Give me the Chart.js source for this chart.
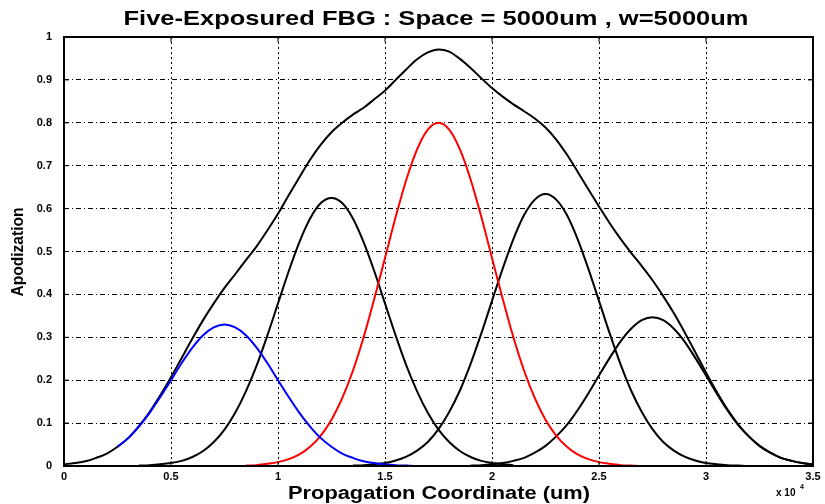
<!DOCTYPE html>
<html>
<head>
<meta charset="utf-8">
<title>Five-Exposured FBG</title>
<script src="https://cdn.jsdelivr.net/npm/chart.js@4.4.1/dist/chart.umd.min.js"></script>
<style>
  body { margin: 0; background: #fff; }
  canvas { display: block; }
</style>
</head>
<body>
<canvas id="apodChart" width="825" height="504"></canvas>
<script>
// propagation coordinate, in units of 10^4 um
var xs = [0,0.05,0.1,0.15,0.2,0.25,0.3,0.35,0.4,0.45,
          0.5,0.55,0.6,0.65,0.7,0.75,0.8,0.85,0.9,0.95,
          1,1.05,1.1,1.15,1.2,1.25,1.3,1.35,1.4,1.45,
          1.5,1.55,1.6,1.65,1.7,1.75,1.8,1.85,1.9,1.95,
          2,2.05,2.1,2.15,2.2,2.25,2.3,2.35,2.4,2.45,
          2.5,2.55,2.6,2.65,2.7,2.75,2.8,2.85,2.9,2.95,
          3,3.05,3.1,3.15,3.2,3.25,3.3,3.35,3.4,3.45,
          3.5];

// total apodization (sum of the five exposures)
var envelope = [0.004,0.007,0.011,0.019,0.029,0.045,0.065,0.093,0.126,0.165,
                0.207,0.252,0.297,0.340,0.379,0.415,0.447,0.480,0.512,0.549,
                0.588,0.631,0.673,0.714,0.749,0.778,0.800,0.819,0.835,0.855,
                0.875,0.900,0.925,0.948,0.964,0.971,0.966,0.949,0.928,0.904,
                0.881,0.861,0.843,0.827,0.810,0.789,0.761,0.726,0.686,0.645,
                0.605,0.566,0.530,0.497,0.466,0.433,0.396,0.356,0.312,0.265,
                0.218,0.173,0.132,0.097,0.069,0.047,0.031,0.019,0.012,0.007,
                0.004];

// exposure 1 (blue)
var exposure1 = [null,null,null,null,null,0.045,0.065,0.092,0.124,0.161,
                 0.200,0.240,0.276,0.305,0.323,0.330,0.323,0.305,0.276,0.240,
                 0.200,0.161,0.124,0.092,0.065,0.045,0.029,0.019,0.011,0.007,
                 0.004,0.002,0.001,0,0,0,0,0,0,0,
                 0,0,0,null,null,null,null,null,null,null,
                 null,null,null,null,null,null,null,null,null,null,
                 null,null,null,null,null,null,null,null,null,null,
                 null];

// exposure 2 (black)
var exposure2 = [null,null,null,null,null,null,null,0.001,0.002,0.004,
                 0.007,0.012,0.021,0.035,0.056,0.085,0.124,0.174,0.234,0.304,
                 0.379,0.454,0.522,0.577,0.613,0.625,0.613,0.577,0.522,0.454,
                 0.379,0.304,0.234,0.174,0.124,0.085,0.056,0.035,0.021,0.012,
                 0.007,0.004,0.002,null,null,null,null,null,null,null,
                 null,null,null,null,null,null,null,null,null,null,
                 null,null,null,null,null,null,null,null,null,null,
                 null];

// exposure 3 (red, centre)
var exposure3 = [null,null,null,null,null,null,null,null,null,null,
                 null,null,null,null,null,null,null,0.001,0.002,0.005,
                 0.009,0.016,0.027,0.045,0.071,0.108,0.158,0.222,0.300,0.390,
                 0.485,0.581,0.668,0.738,0.784,0.800,0.784,0.738,0.668,0.581,
                 0.485,0.390,0.300,0.222,0.158,0.108,0.071,0.045,0.027,0.016,
                 0.009,0.005,0.002,0.001,0,0,0,0,0,0,
                 0,0,0,0,null,null,null,null,null,null,
                 null];

// exposure 4 (black)
var exposure4 = [null,null,null,null,null,null,null,null,null,null,
                 null,null,null,null,null,null,null,null,null,null,
                 null,null,null,null,null,null,null,0.001,0.002,0.004,
                 0.007,0.013,0.022,0.036,0.056,0.086,0.126,0.176,0.238,0.309,
                 0.385,0.460,0.529,0.585,0.621,0.634,0.621,0.585,0.529,0.460,
                 0.385,0.309,0.238,0.176,0.126,0.086,0.056,0.036,0.022,0.013,
                 0.007,0.004,0.002,0.001,0,0,0,0,0,0,
                 0];

// exposure 5 (black)
var exposure5 = [null,null,null,null,null,null,null,null,null,null,
                 null,null,null,null,null,null,null,null,null,null,
                 null,null,null,null,null,null,null,null,null,null,
                 null,null,null,null,null,null,null,null,0.001,0.002,
                 0.004,0.007,0.012,0.019,0.031,0.047,0.069,0.096,0.130,0.169,
                 0.211,0.252,0.290,0.320,0.340,0.347,0.340,0.320,0.290,0.252,
                 0.211,0.169,0.130,0.096,0.069,0.047,0.031,0.019,0.012,0.007,
                 0.004];

var xTicks = [0, 0.5, 1, 1.5, 2, 2.5, 3, 3.5];
var yTicks = [0, 0.1, 0.2, 0.3, 0.4, 0.5, 0.6, 0.7, 0.8, 0.9, 1];

function toPoints(arr){
    return arr.map(function(y, i){ return {x: xs[i], y: y}; });
}

function line(arr, color, order){
    return {
        data: toPoints(arr),
        borderColor: color,
        borderWidth: 2,
        pointRadius: 0,
        fill: false,
        cubicInterpolationMode: 'monotone',
        order: order
    };
}

// draws a string squeezed/stretched to a given width (the matlab export is wider than normal fonts)
function wideText(ctx, str, cx, cy, font, width, rot){
    ctx.save();
    ctx.font = font;
    var w = ctx.measureText(str).width;
    ctx.translate(cx, cy);
    if (rot) ctx.rotate(rot);
    ctx.scale(width / w, 1);
    ctx.textAlign = 'center';
    ctx.textBaseline = 'middle';
    ctx.fillStyle = '#000';
    ctx.fillText(str, 0, 0);
    ctx.restore();
}

var matlabLook = {
    id: 'matlabLook',
    beforeDraw: function(chart){
        var ctx = chart.ctx;
        ctx.save();
        ctx.fillStyle = '#fff';
        ctx.fillRect(0, 0, chart.width, chart.height);
        ctx.restore();
    },
    afterDraw: function(chart){
        var ctx = chart.ctx, a = chart.chartArea;
        var xs_ = chart.scales.x, ys_ = chart.scales.y;
        ctx.save();
        ctx.strokeStyle = '#000';
        // inward tick marks on all four sides
        ctx.lineWidth = 1;
        ctx.beginPath();
        xTicks.forEach(function(v){
            var p = xs_.getPixelForValue(v);
            ctx.moveTo(p, a.bottom); ctx.lineTo(p, a.bottom - 5);
            ctx.moveTo(p, a.top); ctx.lineTo(p, a.top + 5);
        });
        yTicks.forEach(function(v){
            var p = ys_.getPixelForValue(v);
            ctx.moveTo(a.left, p); ctx.lineTo(a.left + 5, p);
            ctx.moveTo(a.right, p); ctx.lineTo(a.right - 5, p);
        });
        ctx.stroke();
        // box
        ctx.lineWidth = 2;
        ctx.strokeRect(a.left, a.top, a.right - a.left, a.bottom - a.top);
        ctx.restore();

        wideText(ctx, 'Five-Exposured FBG : Space = 5000um , w=5000um', 436, 19,
                 'bold 21px "Liberation Sans", Arial', 625);
        wideText(ctx, 'Propagation Coordinate (um)', 439, 494,
                 'bold 18px "Liberation Sans", Arial', 302);
        wideText(ctx, 'Apodization', 19, 252,
                 'bold 16px "Liberation Sans", Arial', 89, -Math.PI / 2);
        // x 10^4 multiplier
        ctx.save();
        ctx.fillStyle = '#000';
        ctx.textBaseline = 'middle';
        ctx.font = 'bold 10px "Liberation Sans", Arial';
        ctx.fillText('x 10', 776, 493);
        ctx.font = 'bold 7px "Liberation Sans", Arial';
        ctx.fillText('4', 800, 487);
        ctx.restore();
    }
};

var ctx = document.getElementById('apodChart').getContext('2d');
var apodChart = new Chart(ctx, {
    type: 'line',
    data: {
        datasets: [
            line(envelope, '#000000', 6),
            line(exposure2, '#000000', 5),
            line(exposure4, '#000000', 4),
            line(exposure5, '#000000', 3),
            line(exposure3, '#ff0000', 2),
            line(exposure1, '#0000ff', 1)
        ]
    },
    options: {
        responsive: false,
        animation: false,
        layout: { padding: { left: 0, right: 12, top: 37, bottom: 0 } },
        plugins: {
            legend: { display: false },
            tooltip: { enabled: false }
        },
        scales: {
            x: {
                type: 'linear',
                min: 0,
                max: 3.5,
                afterBuildTicks: function(scale){
                    scale.ticks = xTicks.map(function(v){ return {value: v}; });
                },
                afterFit: function(scale){ scale.height = 38; },
                ticks: {
                    color: '#000',
                    padding: 4,
                    maxRotation: 0,
                    font: { family: '"Liberation Sans", Arial', size: 11, weight: 'bold' },
                    callback: function(v){ return String(v); }
                },
                grid: { color: '#000', lineWidth: 1, drawTicks: false },
                border: { display: false, dash: [2, 3] }
            },
            y: {
                min: 0,
                max: 1,
                afterBuildTicks: function(scale){
                    scale.ticks = yTicks.map(function(v){ return {value: v}; });
                },
                afterFit: function(scale){ scale.width = 64; },
                ticks: {
                    color: '#000',
                    padding: 12,
                    font: { family: '"Liberation Sans", Arial', size: 11, weight: 'bold' },
                    callback: function(v){ return String(v); }
                },
                grid: { color: '#000', lineWidth: 1, drawTicks: false },
                border: { display: false, dash: [5, 3, 1, 3] }
            }
        }
    },
    plugins: [matlabLook]
});
</script>
</body>
</html>
